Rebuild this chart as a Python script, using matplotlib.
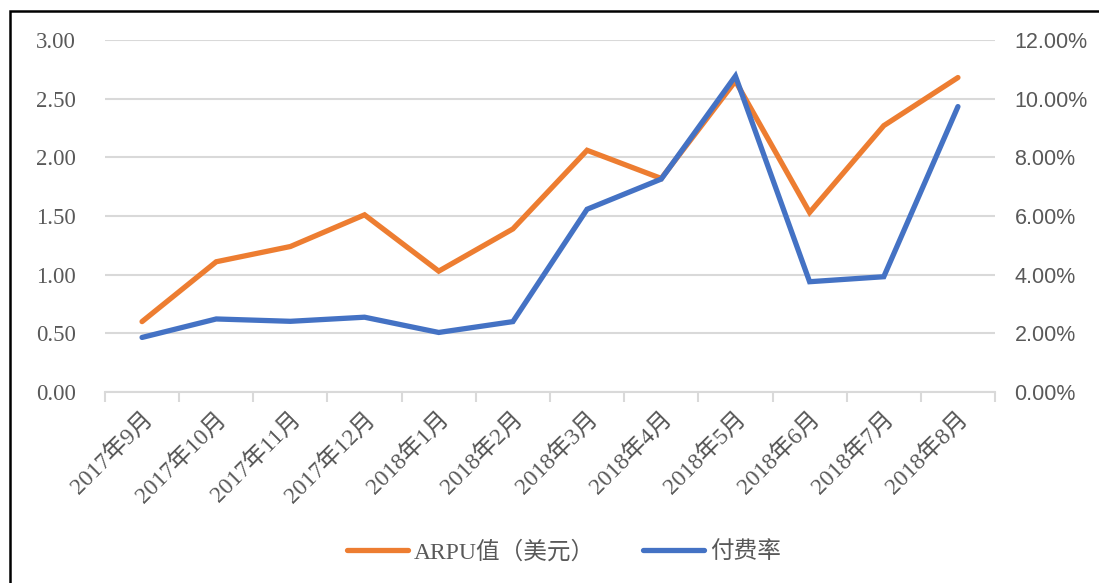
import matplotlib
matplotlib.use("Agg")
import matplotlib.pyplot as plt
from matplotlib.patches import Rectangle
from matplotlib.lines import Line2D
from matplotlib.ticker import FuncFormatter, MultipleLocator
import numpy as np

months = ["2017年9月", "2017年10月", "2017年11月", "2017年12月", "2018年1月", "2018年2月",
          "2018年3月", "2018年4月", "2018年5月", "2018年6月", "2018年7月", "2018年8月"]
arpu = [0.60, 1.11, 1.24, 1.51, 1.03, 1.39, 2.06, 1.82, 2.65, 1.53, 2.27, 2.68]
pay_rate = [1.86, 2.49, 2.41, 2.55, 2.03, 2.40, 6.23, 7.26, 10.77, 3.76, 3.93, 9.73]

ORANGE = "#ED7D31"
BLUE = "#4472C4"
GRID = "#D9D9D9"
TEXT = "#595959"
serif = ["Liberation Serif", "Noto Sans CJK SC"]
sans = ["Liberation Sans", "DejaVu Sans"]

fig = plt.figure(figsize=(10.99, 5.83), dpi=100)
ax = fig.add_axes([0.0955, 0.3276, 0.8099, 0.6038])
ax2 = ax.twinx()

x = np.arange(len(months))
ax.plot(x, arpu, color=ORANGE, lw=3.8, solid_capstyle="round", solid_joinstyle="miter", zorder=3)
ax2.plot(x, pay_rate, color=BLUE, lw=3.8, solid_capstyle="round", solid_joinstyle="miter", zorder=3)

ax.set_xlim(-0.5, len(months) - 0.5)
ax.set_ylim(0, 3.0)
ax2.set_ylim(0, 12.0)
ax.yaxis.set_major_locator(MultipleLocator(0.5))
ax2.yaxis.set_major_locator(MultipleLocator(2.0))
ax.yaxis.set_major_formatter(FuncFormatter(lambda v, p: f"{v:.2f}"))
ax2.yaxis.set_major_formatter(FuncFormatter(lambda v, p: f"{v:.2f}%"))

ax.grid(axis="y", color=GRID, lw=1.5)
ax.set_axisbelow(True)
for a in (ax, ax2):
    for s in a.spines.values():
        s.set_visible(False)
ax.spines["bottom"].set_visible(True)
ax.spines["bottom"].set_color(GRID)
ax.spines["bottom"].set_linewidth(1.5)

ax.tick_params(axis="y", length=0, pad=21, labelcolor=TEXT)
ax2.tick_params(axis="y", length=0, pad=14, labelcolor=TEXT)
for lab in ax.get_yticklabels():
    lab.set_family(serif)
    lab.set_fontsize(16.5)
for lab in ax2.get_yticklabels():
    lab.set_family(sans)
    lab.set_fontsize(15.5)

# category boundary tick marks
ax.set_xticks(np.arange(-0.5, len(months) + 0.5, 1.0), minor=False)
ax.set_xticklabels([])
ax.tick_params(axis="x", which="major", length=7, width=1.5, color=GRID, direction="out")
ax.set_xticks(x, minor=True)
ax.set_xticklabels(months, minor=True)
ax.tick_params(axis="x", which="minor", length=0, pad=12, labelcolor=TEXT)
for lab in ax.get_xticklabels(minor=True):
    lab.set_family(serif)
    lab.set_fontsize(17)
    lab.set_rotation(45)
    lab.set_ha("right")
    lab.set_va("top")
    lab.set_rotation_mode("anchor")

handles = [Line2D([], [], color=ORANGE, lw=3.8, solid_capstyle="round"),
           Line2D([], [], color=BLUE, lw=3.8, solid_capstyle="round")]
leg = fig.legend(handles, ["ARPU值（美元）", "付费率"], loc="center",
                 bbox_to_anchor=(0.513, 0.053), ncol=2, frameon=False,
                 handlelength=2.6, columnspacing=2.0, handletextpad=0.25,
                 prop={"family": serif, "size": 17})
for t in leg.get_texts():
    t.set_color(TEXT)

# outer frame
fig.patches.append(Rectangle((10 / 1099, -0.05), 1.2, 1 - 11 / 583 + 0.05,
                             transform=fig.transFigure, fill=False,
                             edgecolor="black", lw=1.8, zorder=10))

fig.savefig("out.png", dpi=100)
